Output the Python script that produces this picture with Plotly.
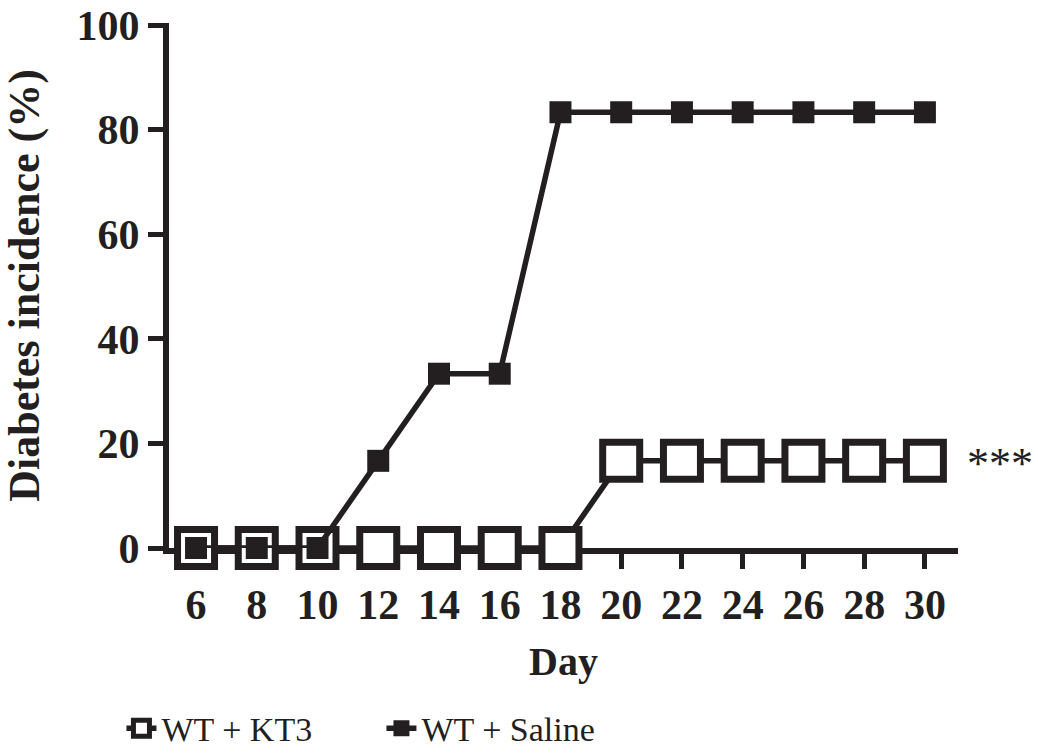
import plotly.graph_objects as go

days = [6, 8, 10, 12, 14, 16, 18, 20, 22, 24, 26, 28, 30]
kt3 = [0, 0, 0, 0, 0, 0, 0, 16.67, 16.67, 16.67, 16.67, 16.67, 16.67]
saline = [0, 0, 0, 16.67, 33.33, 33.33, 83.33, 83.33, 83.33, 83.33, 83.33, 83.33, 83.33]
y_ticks = [0, 20, 40, 60, 80, 100]
x_ticks = days

INK = "#231f20"
FONT = "Liberation Serif, Times New Roman, serif"

fig = go.Figure()
fig.add_trace(go.Scatter(
    x=days, y=kt3, name="WT + KT3", mode="lines+markers",
    line=dict(color=INK, width=5.5),
    marker=dict(symbol="square", size=37, color="white", line=dict(color=INK, width=7)),
    cliponaxis=False,
))
fig.add_trace(go.Scatter(
    x=days, y=saline, name="WT + Saline", mode="lines+markers",
    line=dict(color=INK, width=5.5),
    marker=dict(symbol="square", size=22, color=INK, line=dict(width=0)),
    cliponaxis=False,
))

fig.add_annotation(
    x=1.098, y=kt3[-1], xref="paper", yref="y", text="***",
    showarrow=False, font=dict(family=FONT, size=44, color=INK), yshift=-3,
)

fig.update_layout(
    width=1038, height=755,
    margin=dict(l=169, r=80, t=23, b=207, autoexpand=False),
    paper_bgcolor="white", plot_bgcolor="white",
    font=dict(family=FONT, color=INK),
    showlegend=True,
    legend=dict(
        orientation="h", xref="container", x=0.117, xanchor="left",
        yref="container", y=0.035, yanchor="middle",
        font=dict(family=FONT, size=34, color=INK),
        entrywidth=215, bgcolor="rgba(0,0,0,0)",
    ),
    xaxis=dict(
        range=[5.11, 31.09], tickvals=x_ticks, ticktext=[str(v) for v in x_ticks],
        showline=True, linecolor=INK, linewidth=6, showgrid=False, zeroline=False,
        ticks="outside", ticklen=15, tickwidth=5, tickcolor=INK,
        tickfont=dict(family=FONT, size=42, color=INK, weight="bold"),
        title=dict(text="<b>Day</b>", font=dict(family=FONT, size=40, color=INK), standoff=22),
        layer="below traces", automargin=False,
    ),
    yaxis=dict(
        range=[0, 100.4], tickvals=y_ticks, ticktext=[str(v) for v in y_ticks],
        showline=True, linecolor=INK, linewidth=6, showgrid=False, zeroline=False,
        ticks="outside", ticklen=15, tickwidth=5, tickcolor=INK,
        tickfont=dict(family=FONT, size=42, color=INK, weight="bold"),
        title=dict(text="<b>Diabetes incidence (%)</b>", font=dict(family=FONT, size=44, color=INK), standoff=26),
        layer="below traces", automargin=False,
    ),
)

fig.write_html("out.html")
